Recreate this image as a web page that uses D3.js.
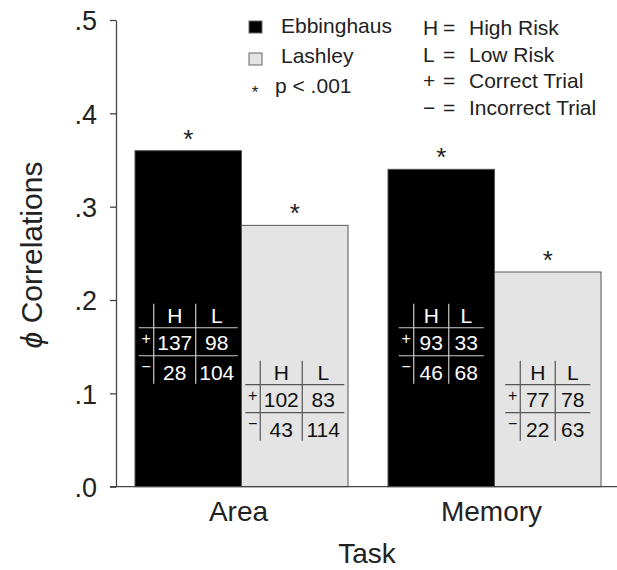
<!DOCTYPE html>
<html>
<head>
<meta charset="utf-8">
<script src="https://cdn.jsdelivr.net/npm/d3@7"></script>
<style>
  body { margin: 0; background: #fff; }
  svg { font-family: "Liberation Sans", Arial, Helvetica, sans-serif; }
</style>
</head>
<body>
<div id="chart"></div>
<script>
// datos
const tasks = ["Area", "Memory"];
const series = ["Ebbinghaus", "Lashley"];
const ebbinghausPhi = [0.36, 0.34];
const lashleyPhi = [0.28, 0.23];
// tablas 2x2: filas +/−, columnas H/L
const ebbinghausCounts = [[[137, 98], [28, 104]], [[93, 33], [46, 68]]];
const lashleyCounts = [[[102, 83], [43, 114]], [[77, 78], [22, 63]]];
const riskLabels = ["H", "L"];
const trialSigns = ["+", "\u2212"];
const yTicks = [0, 0.1, 0.2, 0.3, 0.4, 0.5];
const legendKey = [["H", "High Risk"], ["L", "Low Risk"], ["+", "Correct Trial"], ["\u2212", "Incorrect Trial"]];

const width = 617, height = 570;
const fills = { Ebbinghaus: "#000", Lashley: "#e4e4e4" };
const inkOn = { Ebbinghaus: "#fff", Lashley: "#111" };

const svg = d3.select("#chart").append("svg")
  .attr("width", width).attr("height", height);

const y = d3.scaleLinear().domain([0, 0.5]).range([486.7, 20]);
const x0 = d3.scaleBand().domain(tasks).range([116, 620])
  .paddingInner(0.158).paddingOuter(0.075);
const x1 = d3.scaleBand().domain(series).range([0, x0.bandwidth()]);

const rows = [];
tasks.forEach((t, i) => {
  rows.push({ task: t, serie: "Ebbinghaus", v: ebbinghausPhi[i], counts: ebbinghausCounts[i] });
  rows.push({ task: t, serie: "Lashley", v: lashleyPhi[i], counts: lashleyCounts[i] });
});

// barras
svg.selectAll("rect.bar").data(rows).enter().append("rect")
  .attr("class", "bar")
  .attr("x", d => x0(d.task) + x1(d.serie))
  .attr("y", d => y(d.v))
  .attr("width", x1.bandwidth())
  .attr("height", d => y(0) - y(d.v))
  .attr("fill", d => fills[d.serie])
  .attr("stroke", "#555").attr("stroke-width", 1);

// asteriscos
svg.selectAll("text.star").data(rows).enter().append("text")
  .attr("x", d => x0(d.task) + x1(d.serie) + x1.bandwidth() / 2)
  .attr("y", d => y(d.v) - 3)
  .attr("text-anchor", "middle")
  .style("font-size", "26px").attr("fill", "#222")
  .text("*");

// eje y
const yAxis = svg.append("g").attr("transform", "translate(116,0)")
  .call(d3.axisLeft(y).tickValues(yTicks).tickSize(6).tickSizeOuter(0)
    .tickFormat(d => d3.format(".1f")(d).replace(/^0/, "")));
yAxis.select(".domain").attr("stroke", "#444").attr("stroke-width", 1.3);
yAxis.selectAll(".tick line").attr("stroke", "#444").attr("stroke-width", 1.3);
yAxis.selectAll(".tick text")
  .attr("x", -19).attr("dy", "0.36em")
  .style("font-size", "27px").attr("fill", "#222").attr("font-family", null);

// linea base
svg.append("line")
  .attr("x1", 110).attr("x2", width)
  .attr("y1", y(0)).attr("y2", y(0))
  .attr("stroke", "#444").attr("stroke-width", 1.3);

// etiquetas eje x
svg.selectAll("text.task").data(tasks).enter().append("text")
  .attr("x", d => x0(d) + x0.bandwidth() / 2 - 3)
  .attr("y", 521)
  .attr("text-anchor", "middle")
  .style("font-size", "28px").attr("fill", "#222")
  .text(d => d);

svg.append("text")
  .attr("x", 367).attr("y", 563)
  .attr("text-anchor", "middle")
  .style("font-size", "28px").attr("fill", "#222")
  .text("Task");

const yTitle = svg.append("text")
  .attr("transform", "translate(42,255) rotate(-90)")
  .attr("text-anchor", "middle")
  .style("font-size", "30px").attr("fill", "#222");
yTitle.append("tspan").style("font-style", "italic").text("\u03D5");
yTitle.append("tspan").text(" Correlations");

// tablas de contingencia
const tableTop = { Ebbinghaus: y(0.196), Lashley: y(0.135) };
rows.forEach(d => {
  const maxDigits = d3.max(d.counts.flat(), c => String(c).length);
  const colW = maxDigits >= 3 ? 42 : 35;
  const signW = 15;
  const tw = signW + 2 * colW;
  const cx = x0(d.task) + x1(d.serie) + x1.bandwidth() / 2;
  const left = cx - tw / 2;
  const top = tableTop[d.serie];
  const ink = inkOn[d.serie];
  const g = svg.append("g").attr("transform", `translate(${left},${top})`);
  const lineColor = d.serie === "Ebbinghaus" ? "#ccc" : "#555";

  [signW, signW + colW].forEach(vx => {
    g.append("line").attr("x1", vx).attr("x2", vx).attr("y1", 0).attr("y2", 80)
      .attr("stroke", lineColor).attr("stroke-width", 1.2);
  });
  [24, 52].forEach(hy => {
    g.append("line").attr("x1", 0).attr("x2", tw).attr("y1", hy).attr("y2", hy)
      .attr("stroke", lineColor).attr("stroke-width", 1.2);
  });

  riskLabels.forEach((lab, j) => {
    g.append("text")
      .attr("x", signW + colW * j + colW / 2).attr("y", 19)
      .attr("text-anchor", "middle")
      .style("font-size", "21px").attr("fill", ink)
      .text(lab);
  });
  trialSigns.forEach((s, i) => {
    g.append("text")
      .attr("x", signW / 2).attr("y", i === 0 ? 40 : 68)
      .attr("text-anchor", "middle")
      .style("font-size", "16px").attr("fill", ink)
      .text(s);
    d.counts[i].forEach((c, j) => {
      g.append("text")
        .attr("x", signW + colW * j + colW / 2).attr("y", i === 0 ? 46 : 76)
        .attr("text-anchor", "middle")
        .style("font-size", "21px").attr("fill", ink)
        .text(c);
    });
  });
});

// leyenda
const leg = svg.append("g");
series.forEach((s, i) => {
  leg.append("rect")
    .attr("x", 249).attr("y", 21 + i * 32).attr("width", 13).attr("height", 12)
    .attr("fill", fills[s]).attr("stroke", "#666").attr("stroke-width", 1);
  leg.append("text")
    .attr("x", 281).attr("y", 33 + i * 30)
    .style("font-size", "21px").attr("fill", "#222")
    .text(s);
});
leg.append("text")
  .attr("x", 255).attr("y", 98).attr("text-anchor", "middle")
  .style("font-size", "17px").attr("fill", "#222").text("*");
leg.append("text")
  .attr("x", 275).attr("y", 93)
  .style("font-size", "21px").attr("fill", "#222").text("p < .001");

legendKey.forEach((k, i) => {
  const by = 35 + i * 26.7;
  leg.append("text").attr("x", 423).attr("y", by)
    .style("font-size", "21px").attr("fill", "#222").text(k[0]);
  leg.append("text").attr("x", 443).attr("y", by)
    .style("font-size", "21px").attr("fill", "#222").text("=");
  leg.append("text").attr("x", 469).attr("y", by)
    .style("font-size", "21px").attr("fill", "#222").text(k[1]);
});
</script>
</body>
</html>
